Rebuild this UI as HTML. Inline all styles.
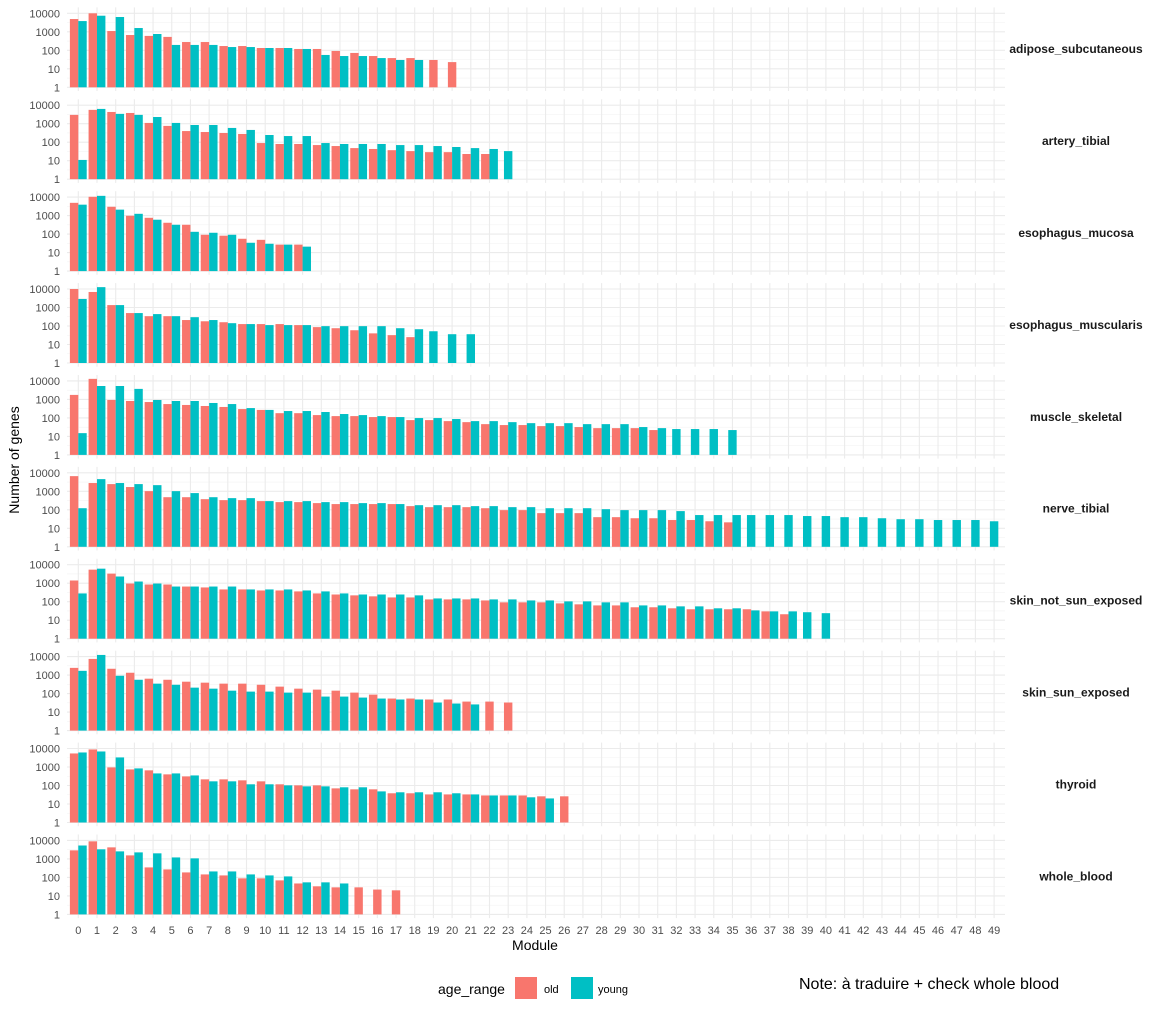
<!DOCTYPE html>
<html><head><meta charset="utf-8"><style>
html,body{margin:0;padding:0;background:#fff;}
svg{display:block;font-family:"Liberation Sans",Arial,sans-serif;}
</style></head><body>
<svg id="chart" width="1151" height="1009" viewBox="0 0 1151 1009" xmlns="http://www.w3.org/2000/svg">
<g id="grid"></g>
<g id="bars"></g>
<g id="labels"></g>
<text x="19" y="460" transform="rotate(-90 19 460)" text-anchor="middle" font-size="14" fill="#000">Number of genes</text>
<text x="535" y="950" text-anchor="middle" font-size="14" fill="#000">Module</text>
<g>
<text x="438" y="994" font-size="14" fill="#000">age_range</text>
<rect x="515" y="977" width="22" height="22" fill="#F8766D"/>
<text x="544" y="993" font-size="11" fill="#000">old</text>
<rect x="571" y="977" width="22" height="22" fill="#00BFC4"/>
<text x="598" y="993" font-size="11" fill="#000">young</text>
</g>
<text x="799" y="989" font-size="16" fill="#000">Note: à traduire + check whole blood</text>
</svg>
<script>
const tissues = ["adipose_subcutaneous","artery_tibial","esophagus_mucosa","esophagus_muscularis","muscle_skeletal","nerve_tibial","skin_not_sun_exposed","skin_sun_exposed","thyroid","whole_blood"];
const oldAdipose = [4900,10000,1100,670,600,530,280,280,170,170,133,133,118,118,92,72,49,38,38,30,23];
const youngAdipose = [3800,7400,6300,1600,760,195,195,195,150,150,133,133,118,56,49,49,38,30,30];
const oldArtery = [3000,5600,4300,3800,1100,760,400,355,315,278,90,80,80,70,62,48,43,37,33,29,29,23,23];
const youngArtery = [11,6300,3400,3000,2300,1100,850,850,590,460,245,215,215,90,80,80,80,70,70,62,55,48,43,33];
const oldMucosa = [4900,10400,3000,980,760,410,320,92,82,56,49,27,27];
const youngMucosa = [3900,11700,2100,1250,600,320,133,118,92,34,30,27,21];
const oldMuscularis = [10000,6900,1350,500,340,340,210,180,160,127,127,127,112,87,76,59,40,32,25];
const youngMuscularis = [2900,12600,1350,500,440,340,300,210,142,127,112,112,112,98,98,98,98,76,67,52,36,36];
const oldMuscle = [1750,12900,930,820,720,560,500,440,390,300,270,180,180,142,125,125,111,111,76,76,67,59,46,41,41,36,36,32,28,28,28,22];
const youngMuscle = [15,5300,5300,3700,930,820,820,640,560,340,270,235,235,208,162,142,125,111,98,98,87,67,67,59,52,52,52,46,46,46,32,28,25,25,25,22];
const oldNerve = [6600,2800,2450,1700,1020,480,480,375,333,333,295,260,260,230,204,204,204,204,158,139,139,139,122,96,96,66,66,66,40,40,35,35,28,28,24,21];
const youngNerve = [122,4550,2800,2450,2150,1020,800,480,427,427,295,295,295,260,260,230,230,204,178,178,178,158,158,139,139,122,122,122,108,96,96,96,85,52,52,52,52,52,52,46,46,40,40,35,31,31,28,28,28,24];
const oldSkinNot = [1400,5400,3300,960,850,850,660,590,460,460,405,405,360,280,245,220,195,170,170,133,133,133,117,92,92,92,81,72,63,63,50,50,44,39,39,39,39,30,21];
const youngSkinNot = [280,6100,2300,1230,960,660,660,660,660,460,460,460,405,360,280,245,245,245,220,150,150,150,133,133,117,117,104,104,92,92,63,63,56,56,44,44,34,30,30,27,24];
const oldSkinSun = [2460,7500,2200,1340,640,560,440,390,345,345,300,238,185,164,144,113,88,54,54,48,48,37,37,33];
const youngSkinSun = [1700,12300,920,560,345,300,210,185,144,128,128,113,113,69,69,61,54,48,48,33,29,26];
const oldThyroid = [5400,8900,950,740,660,400,310,215,215,190,168,116,102,102,70,62,62,38,38,33,33,33,29,29,29,26,26];
const youngThyroid = [6100,6900,3300,840,450,450,350,168,168,116,116,102,90,90,80,80,48,43,43,43,38,33,29,29,23,20];
const oldBlood = [2900,8900,4200,1550,347,270,186,145,128,89,89,69,47,33,29,29,22,20];
const youngBlood = [5300,3300,2550,2250,2000,1200,1070,210,210,145,128,113,54,54,47];
const oldSeries = [oldAdipose,oldArtery,oldMucosa,oldMuscularis,oldMuscle,oldNerve,oldSkinNot,oldSkinSun,oldThyroid,oldBlood];
const youngSeries = [youngAdipose,youngArtery,youngMucosa,youngMuscularis,youngMuscle,youngNerve,youngSkinNot,youngSkinSun,youngThyroid,youngBlood];
const yTickValues = [1,10,100,1000,10000];
const yTickLabels = ["1","10","100","1000","10000"];
const modules = Array.from({length:50},(_,i)=>i);

const NS="http://www.w3.org/2000/svg";
const PX0=67, PX1=1005, X0=78.3, STEP=18.69;
const DEC=18.5, BASE0=87.3, PSTEP=91.9;
function xScale(m){return X0+STEP*m;}
function yScale(panel,v){return BASE0+PSTEP*panel-Math.log10(v)*DEC;}
function mk(tag,attrs,parent){const e=document.createElementNS(NS,tag);for(const k in attrs)e.setAttribute(k,attrs[k]);parent.appendChild(e);return e;}
const grid=document.getElementById('grid'),bars=document.getElementById('bars'),labels=document.getElementById('labels');
const bw=STEP*0.45;
tissues.forEach((t,p)=>{
  const base=BASE0+PSTEP*p, top=base-4.32*DEC, bot=base+3.7;
  // minor gridlines
  for(let l=0.5;l<4.4;l+=1){const y=base-l*DEC;const e=mk('line',{x1:PX0,x2:PX1,y1:y,y2:y,stroke:'#f3f3f3','stroke-width':0.6},grid);
    
    }
  yTickValues.forEach((v,i)=>{const y=yScale(p,v);
    const g=mk('line',{x1:PX0,x2:PX1,y1:y,y2:y,stroke:'#ebebeb','stroke-width':1.1},grid);
    
    
    const tx=mk('text',{x:60,y:y+4,'text-anchor':'end','font-size':11,fill:'#4d4d4d'},labels);
    tx.textContent=yTickLabels[i];
    
    });
  modules.forEach(m=>{const x=xScale(m);
    const g=mk('line',{x1:x,x2:x,y1:top,y2:bot,stroke:'#ebebeb','stroke-width':1.1},grid);
    
    });
  const os=oldSeries[p], ys=youngSeries[p];
  const n=Math.max(os.length,ys.length);
  for(let m=0;m<n;m++){
    const o=os[m], y=ys[m], cx=xScale(m);
    const both=(o!=null&&y!=null);
    if(o!=null){const x=both?cx-bw:cx-bw/2;const yt=yScale(p,o);
      const r=mk('rect',{x:x,y:yt,width:bw,height:base-yt,fill:'#F8766D'},bars);
      
      }
    if(y!=null){const x=both?cx:cx-bw/2;const yt=yScale(p,y);
      const r=mk('rect',{x:x,y:yt,width:bw,height:base-yt,fill:'#00BFC4'},bars);
      
      }
  }
  const s=mk('text',{x:1076,y:(top+bot)/2+4,'text-anchor':'middle','font-size':12,'font-weight':'bold',fill:'#1a1a1a'},labels);
  s.textContent=t;
  
  
});
modules.forEach(m=>{const tx=mk('text',{x:xScale(m),y:934,'text-anchor':'middle','font-size':11,fill:'#4d4d4d'},labels);
  tx.textContent=String(m);
  
  });
</script>
</body></html>
